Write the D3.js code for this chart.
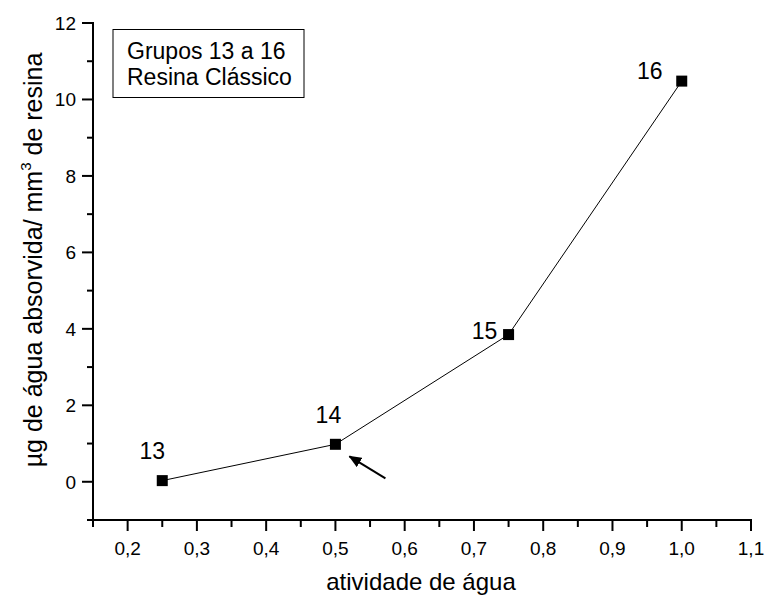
<!DOCTYPE html>
<html>
<head>
<meta charset="utf-8">
<script src="https://cdn.jsdelivr.net/npm/d3@7"></script>
<style>
  body { margin: 0; background: #fff; }
  svg { font-family: "Liberation Sans", Arial, sans-serif; }
</style>
</head>
<body>
<svg id="chart" width="765" height="597"></svg>
<script>
// Water absorption per group
const groups = ["13", "14", "15", "16"];
const wateractivity = [0.25, 0.5, 0.75, 1.0];
const absorbed = [0.03, 0.98, 3.85, 10.48];
const xTicks = [0.2, 0.3, 0.4, 0.5, 0.6, 0.7, 0.8, 0.9, 1.0, 1.1];
const yTicks = [0, 2, 4, 6, 8, 10, 12];
const legendLines = ["Grupos 13 a 16", "Resina Clássico"];

const svg = d3.select("#chart");
const x = d3.scaleLinear().domain([0.15, 1.1]).range([93, 751]);
const y = d3.scaleLinear().domain([-1, 12]).range([520, 23]);
const fmt = d => d.toFixed(1).replace(".", ",");

// x axis: major + minor ticks
const xAxis = svg.append("g").attr("transform", `translate(0,${y(-1)})`);
xAxis.append("line").attr("x1", x(0.15) - 1).attr("x2", x(1.1) + 1).attr("stroke", "#000").attr("stroke-width", 2);
const xMinor = d3.range(0.15, 1.1, 0.1);
xAxis.selectAll(".xm").data(xMinor).join("line")
  .attr("x1", d => x(d)).attr("x2", d => x(d)).attr("y1", 0).attr("y2", 7)
  .attr("stroke", "#000").attr("stroke-width", 2);
xAxis.selectAll(".xM").data(xTicks).join("line")
  .attr("x1", d => x(d)).attr("x2", d => x(d)).attr("y1", 0).attr("y2", 11)
  .attr("stroke", "#000").attr("stroke-width", 2);
xAxis.selectAll(".xl").data(xTicks).join("text")
  .attr("x", d => x(d)).attr("y", 35).attr("text-anchor", "middle")
  .attr("font-size", 19).text(fmt);

// y axis
const yAxis = svg.append("g").attr("transform", `translate(${x(0.15)},0)`);
yAxis.append("line").attr("y1", y(-1) + 1).attr("y2", y(12) - 1).attr("stroke", "#000").attr("stroke-width", 2);
const yMinor = [-1, 1, 3, 5, 7, 9, 11];
yAxis.selectAll(".ym").data(yMinor).join("line")
  .attr("y1", d => y(d)).attr("y2", d => y(d)).attr("x1", 0).attr("x2", -6)
  .attr("stroke", "#000").attr("stroke-width", 2);
yAxis.selectAll(".yM").data(yTicks).join("line")
  .attr("y1", d => y(d)).attr("y2", d => y(d)).attr("x1", 0).attr("x2", -11)
  .attr("stroke", "#000").attr("stroke-width", 2);
yAxis.selectAll(".yl").data(yTicks).join("text")
  .attr("x", -17).attr("y", d => y(d)).attr("dy", "0.36em").attr("text-anchor", "end")
  .attr("font-size", 19).text(d => d);

// axis titles
svg.append("text").attr("x", 421).attr("y", 590)
  .attr("text-anchor", "middle").attr("font-size", 24).text("atividade de água");
const yt = svg.append("text").attr("transform", "translate(42,260) rotate(-90)")
  .attr("text-anchor", "middle").attr("font-size", 25);
yt.append("tspan").text("µg de água absorvida/ mm");
yt.append("tspan").attr("font-size", 15).attr("dy", -11).text("3");
yt.append("tspan").attr("dy", 11).text(" de resina");

// data line + markers
const pts = wateractivity.map((v, i) => ({ x: v, y: absorbed[i], g: groups[i] }));
svg.append("path").datum(pts)
  .attr("d", d3.line().x(d => x(d.x)).y(d => y(d.y)))
  .attr("fill", "none").attr("stroke", "#000").attr("stroke-width", 1);
svg.selectAll(".pt").data(pts).join("rect")
  .attr("x", d => x(d.x) - 5.5).attr("y", d => y(d.y) - 5.5)
  .attr("width", 11).attr("height", 11).attr("fill", "#000");

// group labels next to each marker
const labelOffsets = [[-10, -22], [-7, -21], [-24, 4], [-32, -2]];
svg.selectAll(".gl").data(pts).join("text")
  .attr("x", (d, i) => x(d.x) + labelOffsets[i][0])
  .attr("y", (d, i) => y(d.y) + labelOffsets[i][1])
  .attr("text-anchor", "middle").attr("font-size", 23).text(d => d.g);

// arrow pointing at group 14
const p14 = pts[1];
svg.append("defs").append("marker").attr("id", "ah")
  .attr("viewBox", "0 0 12 10").attr("refX", 11).attr("refY", 5)
  .attr("markerUnits", "userSpaceOnUse")
  .attr("markerWidth", 13).attr("markerHeight", 11).attr("orient", "auto")
  .append("path").attr("d", "M0,0 L12,5 L0,10 z").attr("fill", "#000");
svg.append("line")
  .attr("x1", x(p14.x) + 50).attr("y1", y(p14.y) + 34)
  .attr("x2", x(p14.x) + 14).attr("y2", y(p14.y) + 12)
  .attr("stroke", "#000").attr("stroke-width", 2).attr("marker-end", "url(#ah)");

// legend box
const lg = svg.append("g").attr("transform", "translate(113,29.5)");
lg.append("rect").attr("width", 191).attr("height", 68)
  .attr("fill", "#fff").attr("stroke", "#000").attr("stroke-width", 1);
lg.selectAll("text").data(legendLines).join("text")
  .attr("x", 14).attr("y", (d, i) => 29 + i * 26.5)
  .attr("font-size", 23).text(d => d);
</script>
</body>
</html>
